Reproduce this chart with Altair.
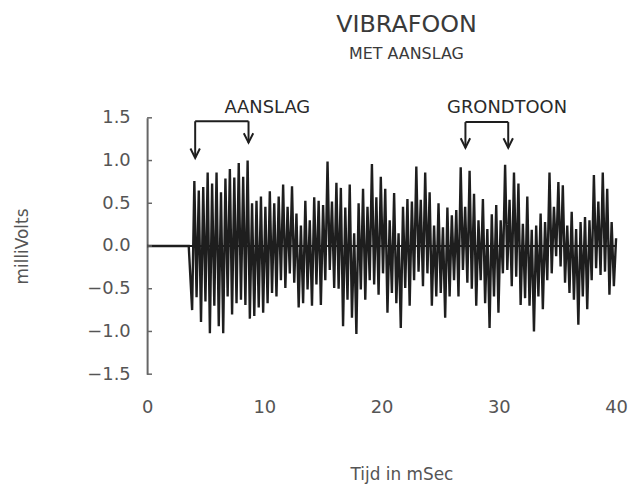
import altair as alt
import pandas as pd
import numpy as np

# --- data -----------------------------------------------------------------
# silent part before the strike (ms, mV)
onset_t = [0.0, 3.55]
onset_mv = [0.0, 0.0]

# waveform extremes (alternating troughs / peaks), mV, from 3.84 ms to 40 ms
wave_start, wave_end = 3.84, 40.0
wave_mv = [
    -0.75, 0.76, -0.60, 0.65, -0.89, 0.69, -0.65, 0.86, -1.02, 0.73,
    -0.70, 0.86, -0.94, 0.63, -1.02, 0.79, -0.59, 0.90, -0.80, 0.80,
    -0.67, 0.97, -0.63, 0.81, -0.69, 1.00, -0.85, 0.50, -0.82, 0.53,
    -0.72, 0.58, -0.78, 0.46, -0.67, 0.64, -0.55, 0.50, -0.59, 0.58,
    -0.40, 0.72, -0.49, 0.46, -0.32, 0.70, -0.43, 0.38, -0.72, 0.24,
    -0.67,
    0.53, -0.51, 0.30, -0.70, 0.57, -0.45, 0.53, -0.69, 0.48, -0.40,
    0.99, -0.28, 0.52, -0.49, 0.74, -0.50, 0.68, -0.94, 0.45, -0.63,
    0.72, -0.84, 0.15, -1.03, 0.50, -0.51, 0.67, -0.63, 0.46, -0.40,
    0.96, -0.45, 0.57, -0.57, 0.81, -0.32, 0.67, -0.78, 0.30, -0.55,
    0.62, -0.67, 0.15, -0.96, 0.46, -0.49, 0.55, -0.70, 0.52, -0.40,
    0.93, -0.30, 0.54, -0.47, 0.86, -0.32, 0.63, -0.70, 0.24, -0.59,
    0.50, -0.55, 0.22, -0.84, 0.45, -0.59, 0.36, -0.40, 0.42, -0.59,
    0.92, -0.28,
    0.46, -0.43, 0.88, -0.50, 0.61, -0.70, 0.30, -0.40, 0.55, -0.67,
    0.20, -0.96, 0.37, -0.59, 0.48, -0.78, 0.30, -0.32, 0.95, -0.28,
    0.54, -0.47, 0.86, -0.36, 0.73, -0.69, 0.26, -0.61, 0.58, -0.70,
    0.19, -1.00, 0.24, -0.59, 0.38, -0.74, 0.28, -0.40, 0.86, -0.32,
    0.46, -0.12, 0.75, -0.24, 0.71, -0.43, 0.24, -0.55, 0.40, -0.63,
    0.20, -0.92, 0.28, -0.59, 0.34, -0.74, 0.30, -0.40, 0.83, -0.26,
    0.52, -0.34, 0.86, -0.30, 0.67, -0.57, 0.28, -0.47, 0.09,
]

x_ticks = [0, 10, 20, 30, 40]
y_ticks = [-1.5, -1.0, -0.5, 0.0, 0.5, 1.0, 1.5]

# annotations: label text, label position (ms, mV)
ann_text = ["AANSLAG", "GRONDTOON"]
ann_x = [10.25, 30.7]
ann_y = [1.62, 1.62]
# bracket: left foot, right foot (ms), bar level, left tip, right tip (mV)
br_left = [4.1, 27.15]
br_right = [8.65, 30.8]
br_bar = [1.46, 1.45]
br_tip_left = [1.03, 1.15]
br_tip_right = [1.21, 1.15]

# --- tables ---------------------------------------------------------------
t = np.linspace(wave_start, wave_end, len(wave_mv))
df = pd.DataFrame({"t": onset_t + list(t), "mv": onset_mv + wave_mv})

segs = []
tips = []
for i in range(len(ann_text)):
    segs.append({"x": br_left[i], "x2": br_left[i], "y": br_bar[i], "y2": br_tip_left[i]})
    segs.append({"x": br_left[i], "x2": br_right[i], "y": br_bar[i], "y2": br_bar[i]})
    segs.append({"x": br_right[i], "x2": br_right[i], "y": br_bar[i], "y2": br_tip_right[i]})
    tips.append({"x": br_left[i], "y": br_tip_left[i]})
    tips.append({"x": br_right[i], "y": br_tip_right[i]})
segs = pd.DataFrame(segs)
tips = pd.DataFrame(tips)
labels = pd.DataFrame({"text": ann_text, "x": ann_x, "y": ann_y})
ticks = pd.DataFrame({"y": y_ticks, "x": [0.0] * len(y_ticks), "x2": [0.42] * len(y_ticks)})
zero = pd.DataFrame({"x": [0.0], "x2": [40.0], "y": [0.0]})

FONT = "DejaVu Sans"
GREY = "#555555"
INK = "#1e1e1e"

xs = alt.Scale(domain=[0, 40], nice=False, zero=False)
ys = alt.Scale(domain=[-1.5, 1.5], nice=False)

line = alt.Chart(df).mark_line(color=INK, strokeWidth=2.4).encode(
    x=alt.X("t:Q", scale=xs, axis=alt.Axis(
        values=x_ticks, tickSize=0, domain=False, grid=False, labelFlush=False,
        labelFontSize=18, labelColor=GREY, labelFont=FONT, labelPadding=25,
        title="Tijd in mSec", titleFontSize=17, titleColor=GREY, titleFont=FONT,
        titleFontWeight="normal", titleX=256, titlePadding=50)),
    y=alt.Y("mv:Q", scale=ys, axis=alt.Axis(
        values=y_ticks, format=".1f", tickSize=0, domain=True, domainColor="#666666",
        domainWidth=2, grid=False, labelFontSize=18, labelColor=GREY, labelFont=FONT,
        labelPadding=17, title="milliVolts", titleFontSize=17, titleColor=GREY,
        titleFont=FONT, titleFontWeight="normal", titlePadding=56)),
)

zero_rule = alt.Chart(zero).mark_rule(color=INK, strokeWidth=2).encode(
    x=alt.X("x:Q", scale=xs), x2="x2:Q", y=alt.Y("y:Q", scale=ys))

tick_rule = alt.Chart(ticks).mark_rule(color="#666666", strokeWidth=1.5).encode(
    x=alt.X("x:Q", scale=xs), x2="x2:Q", y=alt.Y("y:Q", scale=ys))

bracket = alt.Chart(segs).mark_rule(color=INK, strokeWidth=2).encode(
    x=alt.X("x:Q", scale=xs), x2="x2:Q", y=alt.Y("y:Q", scale=ys), y2="y2:Q")

heads = alt.Chart(tips).mark_point(
    shape="M-1,-2L0,0L1,-2", filled=False, size=90, strokeWidth=2, color=INK, opacity=1
).encode(x=alt.X("x:Q", scale=xs), y=alt.Y("y:Q", scale=ys))

texts = alt.Chart(labels).mark_text(
    fontSize=18, font=FONT, color="#2a2a2a", baseline="middle", align="center"
).encode(x=alt.X("x:Q", scale=xs), y=alt.Y("y:Q", scale=ys), text="text:N")

chart = alt.layer(zero_rule, line, tick_rule, bracket, heads, texts).properties(
    width=472,
    height=258,
    title=alt.Title(
        "VIBRAFOON", subtitle="MET AANSLAG", fontSize=24, subtitleFontSize=16,
        font=FONT, subtitleFont=FONT, color="#3a3a3a", subtitleColor="#3a3a3a",
        fontWeight="normal", anchor="middle", dx=25, offset=37, subtitlePadding=9),
    autosize=alt.AutoSizeParams(type="none"),
    padding={"left": 140, "top": 109, "right": 14, "bottom": 110},
).configure_view(stroke=None)

chart.save("out.html", embed_options={"renderer": "svg", "actions": False})
